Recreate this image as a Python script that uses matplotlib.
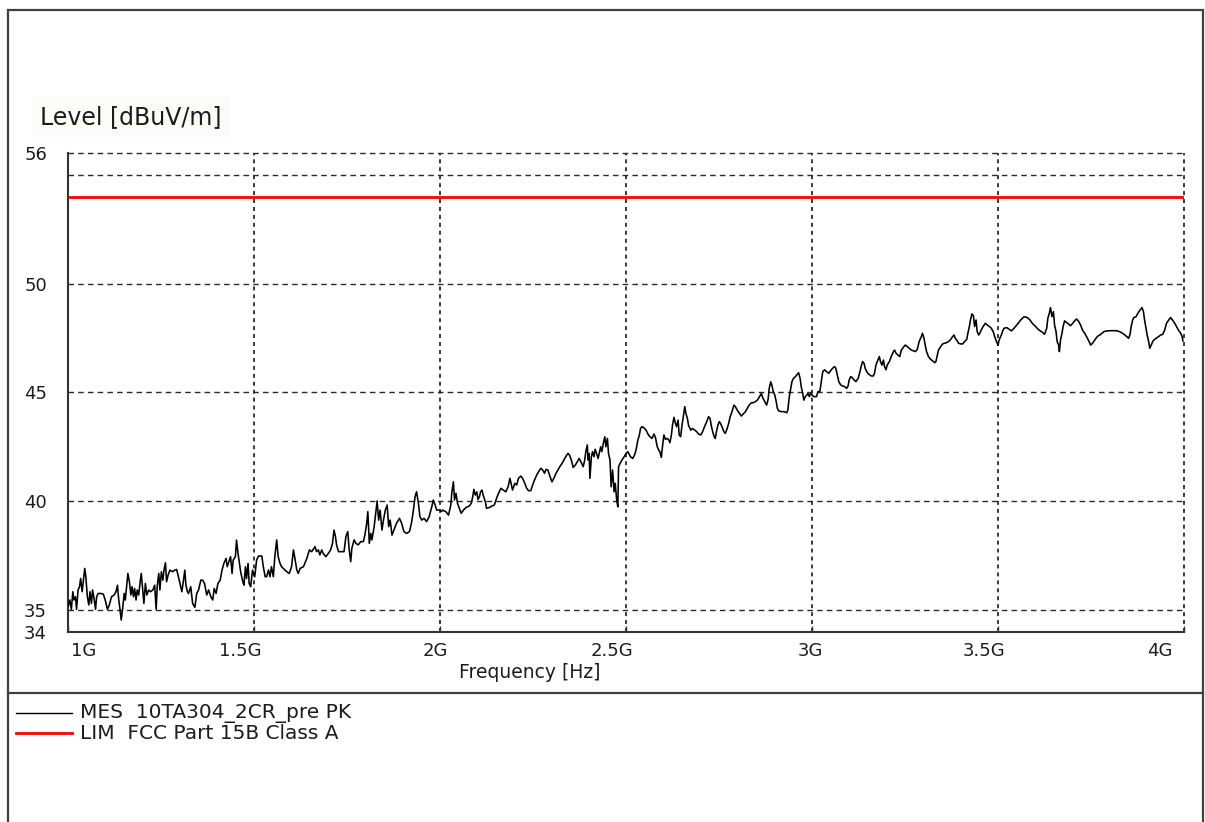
import matplotlib
matplotlib.use("Agg")
import matplotlib.pyplot as plt
from matplotlib.lines import Line2D
from matplotlib.patches import Rectangle
from matplotlib.transforms import ScaledTranslation

# ---------------- data (frequency in MHz, level in dBuV/m) ----------------
seg1_freq = [1001, 1005, 1009, 1013, 1016, 1020, 1023, 1027, 1031, 1034, 1038,
             1041, 1045, 1048, 1052, 1056, 1059, 1063, 1066, 1070, 1074,
             1077, 1081, 1088, 1095, 1100, 1106, 1111, 1117, 1124, 1129,
             1133, 1136, 1140, 1143, 1147, 1151, 1154, 1158, 1161, 1165,
             1169, 1172, 1176, 1179, 1183, 1186, 1190, 1194, 1197, 1201,
             1204, 1208, 1212, 1217, 1222, 1228, 1233, 1237, 1240, 1244,
             1247, 1251, 1255, 1258, 1262, 1265, 1269, 1274, 1281, 1287,
             1292, 1298, 1303, 1306, 1310, 1314, 1317, 1321, 1324, 1330,
             1335, 1341, 1346, 1351, 1357, 1362, 1367, 1373, 1378, 1384,
             1389, 1393, 1398, 1403, 1409, 1414, 1419, 1425, 1428, 1434,
             1437, 1441, 1444, 1450, 1453, 1457, 1461, 1464, 1470, 1473,
             1477, 1480, 1484, 1487, 1491, 1496, 1502, 1507]
seg1_level = [35.20, 35.47, 35.04, 35.85, 35.47, 35.62, 35.04, 35.93, 36.08, 36.46, 35.85,
              36.31, 36.92, 36.54, 35.62, 35.24, 35.85, 35.31, 35.93, 35.54, 35.04,
              35.62, 35.77, 35.77, 35.74, 35.47, 35.04, 35.24, 35.62, 35.70, 35.85,
              36.15, 35.54, 35.01, 34.55, 35.08, 35.77, 35.47, 36.15, 36.69, 36.31,
              35.70, 36.08, 35.62, 36.00, 35.47, 35.93, 35.70, 36.31, 36.69, 35.93,
              35.31, 36.23, 35.70, 35.93, 35.85, 35.93, 36.15, 35.04, 36.15, 36.69,
              35.93, 36.77, 36.38, 36.84, 37.18, 36.31, 36.61, 36.84, 36.77, 36.84,
              36.87, 36.46, 36.08, 35.85, 36.31, 36.84, 36.15, 35.85, 35.77, 36.08,
              35.31, 35.13, 35.77, 35.93, 36.38, 36.38, 36.23, 35.70, 35.93, 35.62,
              35.47, 36.00, 35.77, 36.23, 36.38, 36.84, 37.15, 37.38, 37.00, 37.30,
              37.46, 36.69, 37.30, 37.46, 38.22, 37.61, 37.15, 36.77, 36.31, 36.15,
              37.00, 36.46, 37.15, 36.23, 36.08, 36.84, 36.54, 37.30]

seg2_freq = [1512, 1521, 1525, 1530, 1534, 1539, 1543, 1547, 1552, 1556,
             1561, 1565, 1570, 1574, 1579, 1588, 1595, 1601, 1606, 1610,
             1615, 1619, 1624, 1633, 1642, 1649, 1655, 1664, 1668, 1673,
             1677, 1682, 1686, 1693, 1700, 1706, 1711, 1715, 1719, 1722,
             1727, 1736, 1742, 1747, 1752, 1756, 1760, 1763, 1769, 1774,
             1780, 1787, 1794, 1798, 1803, 1806, 1810, 1814, 1817, 1823,
             1828, 1831, 1835, 1839, 1844, 1848, 1853, 1858, 1862, 1866,
             1871, 1876, 1883, 1891, 1897, 1903, 1910, 1918, 1924, 1928,
             1933, 1937, 1942, 1946, 1951, 1957, 1964, 1971, 1978, 1982,
             1987, 1991, 1998, 2004]
seg2_level = [37.49, 37.49, 37.00, 36.54, 36.54, 36.85, 36.54, 37.00, 36.54, 37.46,
              38.23, 37.46, 37.15, 37.00, 36.92, 36.77, 36.69, 37.00, 37.77, 37.38,
              36.85, 36.69, 36.92, 37.00, 37.38, 37.77, 37.69, 37.92, 37.69, 37.77,
              37.54, 37.77, 37.61, 37.46, 37.61, 37.77, 38.07, 38.68, 38.38, 38.00,
              37.69, 37.69, 37.69, 38.38, 38.61, 37.77, 37.23, 37.84, 38.23, 38.07,
              38.00, 38.15, 38.15, 38.45, 38.99, 39.53, 38.07, 38.53, 38.23, 38.84,
              39.60, 40.02, 39.14, 39.60, 38.68, 39.14, 39.60, 39.83, 38.84, 39.14,
              38.45, 38.68, 38.99, 39.22, 38.99, 38.61, 38.53, 38.61, 39.07, 39.53,
              40.22, 40.44, 39.91, 39.30, 39.14, 39.22, 39.07, 39.30, 39.76, 40.06,
              39.83, 39.60, 39.60, 39.53]

seg3_freq = [2007, 2016, 2023, 2029, 2032, 2036, 2039, 2043, 2047, 2052,
             2057, 2063, 2070, 2079, 2084, 2088, 2091, 2095, 2099, 2102,
             2106, 2109, 2113, 2116, 2122, 2125, 2133, 2140, 2146, 2152,
             2158, 2164, 2170, 2177, 2183, 2188, 2192, 2195, 2201, 2206,
             2211, 2217, 2222, 2228, 2233, 2238, 2244, 2249, 2254, 2260,
             2265, 2271, 2276, 2281, 2285, 2290, 2296, 2301, 2306, 2312,
             2317, 2323, 2328, 2333, 2339, 2344, 2348, 2353, 2358, 2364,
             2369, 2374, 2380, 2385, 2389, 2392, 2396, 2398, 2401, 2403,
             2407, 2410, 2414, 2417, 2421, 2425, 2428, 2432, 2435, 2439,
             2443, 2446, 2450, 2453, 2457, 2460, 2464, 2468, 2471, 2475,
             2478, 2480, 2484, 2489, 2495, 2500, 2505]
seg3_level = [39.60, 39.52, 39.37, 39.83, 40.44, 40.90, 40.06, 40.37, 39.91, 39.68,
              39.45, 39.60, 39.72, 39.79, 39.91, 40.21, 40.55, 40.29, 40.44, 40.09,
              40.21, 40.44, 40.52, 40.29, 39.98, 39.68, 39.72, 39.79, 39.83, 40.14,
              40.40, 40.60, 40.52, 40.44, 40.67, 41.06, 40.75, 40.52, 40.83, 40.75,
              41.06, 41.16, 41.06, 40.83, 40.60, 40.49, 40.49, 40.75, 40.98, 41.21,
              41.36, 41.52, 41.44, 41.29, 41.47, 41.44, 41.13, 40.90, 41.06, 41.29,
              41.44, 41.62, 41.74, 41.90, 42.08, 42.20, 42.13, 41.90, 41.56, 41.67,
              41.82, 41.97, 41.78, 41.59, 41.90, 42.28, 42.59, 41.90, 42.20, 41.06,
              42.05, 42.28, 42.05, 42.39, 42.20, 41.97, 42.20, 42.51, 42.28, 42.66,
              42.97, 42.51, 42.89, 42.20, 41.90, 40.67, 41.44, 40.44, 40.83, 40.06,
              39.75, 41.59, 41.74, 41.90, 42.05, 42.20, 42.28]

seg4_freq = [2512, 2518, 2523, 2527, 2532, 2536, 2539, 2543, 2548, 2554,
             2559, 2564, 2570, 2575, 2579, 2584, 2588, 2591, 2595, 2599,
             2602, 2606, 2611, 2615, 2618, 2622, 2625, 2629, 2633, 2636,
             2640, 2643, 2647, 2650, 2654, 2658, 2661, 2665, 2668, 2674,
             2679, 2685, 2690, 2695, 2701, 2706, 2711, 2717, 2722, 2726,
             2729, 2733, 2737, 2740, 2744, 2747, 2751, 2754, 2758, 2763,
             2767, 2772, 2776, 2780, 2785, 2790, 2794, 2799, 2805, 2810,
             2815, 2821, 2826, 2831, 2837, 2842, 2848, 2853, 2858, 2864,
             2867, 2873, 2878, 2882, 2885, 2889, 2892, 2896, 2900, 2903,
             2907, 2910, 2918, 2925, 2932, 2935, 2939, 2943, 2946, 2950,
             2955, 2961, 2964, 2968, 2971, 2975, 2978, 2982, 2986, 2989,
             2993, 2996, 3000, 3005]
seg4_level = [42.05, 41.97, 42.13, 42.36, 42.82, 43.05, 43.35, 43.43, 43.38, 43.27,
              43.09, 42.97, 42.89, 43.09, 42.94, 42.51, 42.36, 42.28, 42.02, 42.66,
              43.05, 42.85, 42.89, 42.82, 42.69, 43.05, 43.50, 43.86, 43.58, 43.43,
              43.73, 43.05, 42.97, 43.43, 43.89, 44.35, 44.04, 43.81, 43.50, 43.27,
              43.35, 43.27, 43.20, 43.09, 43.05, 43.20, 43.43, 43.66, 43.89, 43.81,
              43.50, 43.20, 42.97, 42.89, 43.27, 43.50, 43.66, 43.58, 43.43, 43.20,
              43.12, 43.35, 43.58, 43.89, 44.12, 44.42, 44.35, 44.19, 44.04, 43.92,
              44.01, 44.12, 44.27, 44.42, 44.53, 44.53, 44.58, 44.65, 44.78, 44.96,
              44.78, 44.58, 44.42, 44.68, 45.19, 45.49, 45.34, 45.04, 44.88, 44.65,
              44.27, 44.16, 44.12, 44.12, 44.07, 44.19, 44.81, 45.19, 45.49, 45.65,
              45.72, 45.85, 45.91, 45.65, 45.27, 44.96, 44.65, 44.81, 44.88, 44.96,
              44.81, 44.96, 44.88, 44.81]

seg5_freq = [3012, 3016, 3021, 3025, 3029, 3034, 3039, 3045, 3050, 3055,
             3061, 3064, 3068, 3072, 3077, 3082, 3088, 3093, 3097, 3100,
             3104, 3107, 3113, 3118, 3124, 3129, 3132, 3136, 3140, 3143,
             3147, 3152, 3159, 3165, 3168, 3172, 3177, 3181, 3184, 3188,
             3192, 3195, 3199, 3202, 3208, 3213, 3219, 3222, 3226, 3231,
             3236, 3240, 3244, 3247, 3251, 3256, 3262, 3267, 3272, 3278,
             3283, 3288, 3294, 3297, 3301, 3305, 3308, 3313, 3319, 3324,
             3330, 3333, 3337, 3340, 3346, 3351, 3356, 3362, 3367, 3373,
             3378, 3382, 3385, 3389, 3394, 3400, 3405, 3410, 3416, 3419,
             3423, 3426, 3430, 3434, 3437, 3441, 3444, 3448, 3451, 3455,
             3460, 3466, 3471, 3477, 3482, 3487, 3491, 3496, 3500, 3503,
             3509]
seg5_level = [44.81, 45.04, 45.04, 45.50, 45.96, 46.04, 45.96, 45.88, 46.00, 46.11,
              46.19, 46.11, 45.81, 45.50, 45.35, 45.30, 45.27, 45.19, 45.30, 45.58,
              45.73, 45.70, 45.58, 45.50, 45.65, 45.96, 46.19, 46.42, 46.34, 46.11,
              45.96, 45.85, 45.76, 45.76, 45.88, 46.26, 46.49, 46.65, 46.42, 46.26,
              46.49, 46.19, 46.04, 46.26, 46.42, 46.65, 46.88, 46.95, 46.80, 46.72,
              46.65, 46.95, 47.03, 47.11, 47.18, 47.11, 47.03, 46.95, 46.92, 46.88,
              46.98, 47.34, 47.57, 47.72, 47.49, 47.11, 46.88, 46.65, 46.52, 46.46,
              46.37, 46.42, 46.72, 46.95, 47.11, 47.23, 47.26, 47.29, 47.34, 47.44,
              47.57, 47.64, 47.49, 47.41, 47.26, 47.23, 47.23, 47.34, 47.44, 47.72,
              48.03, 48.33, 48.61, 48.52, 48.03, 48.33, 47.80, 47.64, 47.72, 47.87,
              48.03, 48.18, 48.10, 48.03, 47.95, 47.80, 47.57, 47.34, 47.18, 47.41,
              47.64]

seg6_freq = [3512, 3516, 3523, 3529, 3536, 3543, 3552, 3561, 3570, 3579,
             3586, 3592, 3601, 3610, 3619, 3625, 3631, 3634, 3638, 3641,
             3645, 3649, 3652, 3656, 3659, 3663, 3665, 3668, 3672, 3675,
             3679, 3684, 3690, 3695, 3701, 3706, 3711, 3717, 3722, 3727,
             3733, 3738, 3744, 3749, 3754, 3760, 3767, 3776, 3785, 3794,
             3803, 3812, 3821, 3830, 3839, 3846, 3851, 3855, 3858, 3862,
             3865, 3871, 3876, 3882, 3887, 3891, 3894, 3898, 3901, 3905,
             3908, 3912, 3916, 3919, 3925, 3932, 3937, 3943, 3948, 3953,
             3959, 3964, 3969, 3975, 3980, 3985, 3991, 3995, 3997]
seg6_level = [47.80, 47.95, 47.98, 47.92, 47.83, 47.95, 48.13, 48.33, 48.48, 48.44,
              48.33, 48.18, 48.03, 47.87, 47.77, 47.67, 47.95, 48.41, 48.64, 48.90,
              48.48, 48.71, 48.10, 47.80, 47.34, 47.18, 46.88, 47.41, 47.72, 48.03,
              48.29, 48.22, 48.13, 48.07, 48.18, 48.29, 48.38, 48.26, 48.10, 47.87,
              47.72, 47.57, 47.37, 47.18, 47.26, 47.41, 47.57, 47.67, 47.80, 47.83,
              47.84, 47.84, 47.83, 47.77, 47.67, 47.57, 47.49, 47.67, 48.03, 48.33,
              48.44, 48.48, 48.64, 48.79, 48.90, 48.71, 48.33, 47.95, 47.64, 47.34,
              47.03, 47.18, 47.34, 47.41, 47.49, 47.57, 47.64, 47.67, 47.87, 48.18,
              48.33, 48.44, 48.33, 48.18, 48.03, 47.87, 47.72, 47.57, 47.37]

mes_freq = seg1_freq + seg2_freq + seg3_freq + seg4_freq + seg5_freq + seg6_freq
mes_level = seg1_level + seg2_level + seg3_level + seg4_level + seg5_level + seg6_level

limit_freq = [1000, 4000]
limit_level = [54.0, 54.0]

series_names = ["MES  10TA304_2CR_pre PK", "LIM  FCC Part 15B Class A"]

x_ticks = [1000, 1500, 2000, 2500, 3000, 3500, 4000]
x_tick_labels = ["1G", "1.5G", "2G", "2.5G", "3G", "3.5G", "4G"]
y_ticks = [34, 35, 40, 45, 50, 56]
y_tick_labels = ["34", "35", "40", "45", "50", "56"]
grid_levels = [35, 40, 45, 50, 55, 56]
grid_freqs = [1500, 2000, 2500, 3000, 3500, 4000]

# ---------------- figure ----------------
W, H = 1205, 822
fig = plt.figure(figsize=(W / 100, H / 100), dpi=100)
fig.patch.set_facecolor("white")

ax = fig.add_axes([68 / W, 1 - 632 / H, 1116 / W, 479 / H])
ax.set_xlim(1000, 4000)
ax.set_ylim(34, 56)

text_color = "#1c1c1c"
grid_color = "#2a2a2a"

for g in grid_levels:
    ax.axhline(g, color=grid_color, lw=1.0, ls=(0, (4, 3)), zorder=1, clip_on=False)
for g in grid_freqs:
    ax.axvline(g, color=grid_color, lw=1.3, ls=(0, (2.2, 2.2)), zorder=1, clip_on=False)

ax.plot(limit_freq, limit_level, color="#ff0000", lw=2.0, zorder=3, solid_capstyle="butt")
ax.plot(mes_freq, mes_level, color="black", lw=1.15, zorder=4)

for s in ("top", "right"):
    ax.spines[s].set_visible(False)
for s in ("left", "bottom"):
    ax.spines[s].set_color("#333333")
    ax.spines[s].set_linewidth(1.5)

ax.set_xticks(x_ticks, x_tick_labels)
ax.set_yticks(y_ticks, y_tick_labels)
ax.tick_params(axis="x", direction="in", length=4, width=1, color="#333333",
               pad=7, labelsize=13, labelcolor=text_color)
ax.tick_params(axis="y", length=0, pad=15, labelsize=13, labelcolor=text_color)

# shift x tick labels like the original instrument software does
x_label_shift_px = [16, -14, -5, -14, -2, -14, -24]
for lab, dx in zip(ax.get_xticklabels(), x_label_shift_px):
    lab.set_transform(lab.get_transform() + ScaledTranslation(dx / 100, 0, fig.dpi_scale_trans))

ax.set_xlabel("Frequency [Hz]", fontsize=13.5, color=text_color)
ax.xaxis.set_label_coords((530 - 68) / 1116, (632 - 672) / 479)
ax.xaxis.label.set_va("center")

fig.text(40 / W, 1 - 117 / H, "Level [dBuV/m]", fontsize=17, color=text_color,
         ha="left", va="center",
         bbox=dict(boxstyle="square,pad=0.35", facecolor="#fbfbf8", edgecolor="none"))

# outer frame and separator
fig.add_artist(Rectangle((8 / W, -0.05), (1203 - 8) / W, 0.05 + 1 - 10 / H,
                         transform=fig.transFigure, fill=False,
                         edgecolor="#404040", lw=1.6))
fig.add_artist(Line2D([8 / W, 1203 / W], [1 - 693 / H] * 2, color="#404040", lw=1.6))

# legend
legend_colors = ["black", "#ff0000"]
legend_widths = [1.0, 2.0]
legend_y = [713, 733]
for name, col, lw, yy in zip(series_names, legend_colors, legend_widths, legend_y):
    fig.add_artist(Line2D([16 / W, 72 / W], [1 - yy / H] * 2, color=col, lw=lw))
    fig.text(80 / W, 1 - yy / H, name, fontsize=14.5, color=text_color, ha="left", va="center")

fig.savefig("out.png", dpi=100, facecolor="white")
